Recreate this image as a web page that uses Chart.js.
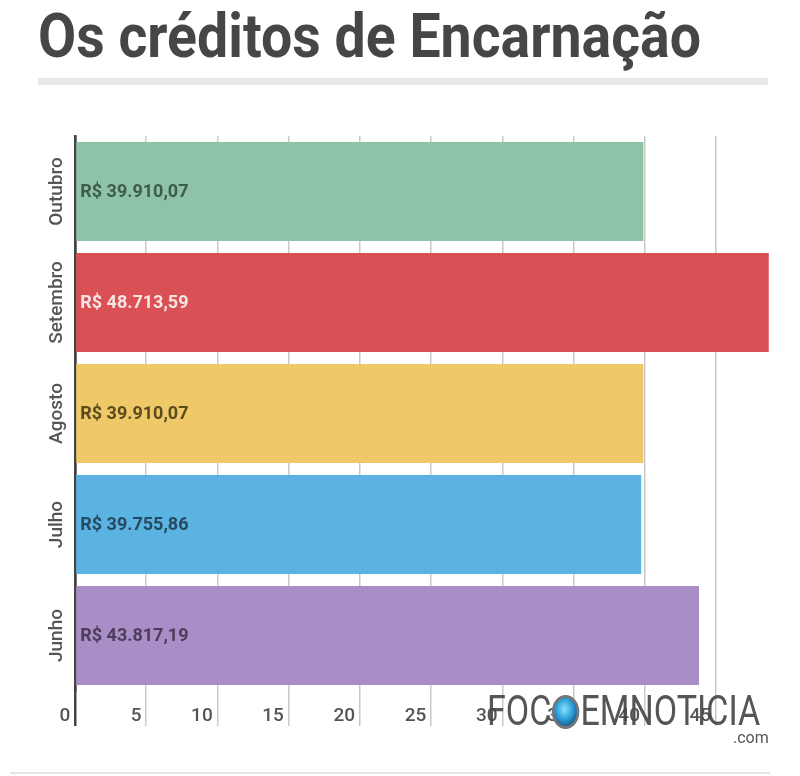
<!DOCTYPE html>
<html>
<head>
<meta charset="utf-8">
<script src="https://cdn.jsdelivr.net/npm/chart.js@4.4.1/dist/chart.umd.min.js"></script>
<style>
  html, body { margin: 0; padding: 0; background: #fff; }
  body { width: 800px; height: 776px; position: relative; overflow: hidden; font-family: Roboto, sans-serif; }
  #title { position: absolute; left: 38px; top: 5px; margin: 0; font: 700 62px/62px Roboto, sans-serif; color: #464646;
           white-space: nowrap; transform: scaleX(0.894); transform-origin: 0 0; }
  #rule { position: absolute; left: 38px; top: 78px; width: 730px; height: 7px; background: #e8e8e8; }
  #foot { position: absolute; left: 10px; top: 772px; width: 760px; height: 2px; background: #e4e4e4; }
  #wrap { position: absolute; left: 0; top: 0; width: 800px; height: 776px; }
  #mark { position: absolute; left: 487px; top: 690px; color: rgba(70,70,70,0.92); z-index: 2; white-space: nowrap; }
  #mark .big { font: 400 42px/42px Roboto, sans-serif; display: inline-block; transform: scaleX(0.81); transform-origin: 0 0; }
  #mark .globe { display: inline-block; width: 34px; height: 34px; border-radius: 50%; vertical-align: -4px;
                 background: radial-gradient(circle at 45% 40%, #8fe0ff 0%, #2a9fd8 45%, #1b5f8f 75%);
                 border: 3px solid #777; box-sizing: border-box; margin: 0 1px; }
  #mark .com { position: absolute; left: 246px; top: 38px; font: 400 16px Roboto, sans-serif; color: #555; }
</style>
</head>
<body>
<h1 id="title">Os créditos de Encarnação</h1>
<div id="rule"></div>
<div id="wrap"><canvas id="chart" width="800" height="776"></canvas></div>
<div id="mark"><span class="big">FOC<span class="globe"></span>EMNOTICIA</span><span class="com">.com</span></div>
<div id="foot"></div>
<script>
// months, top to bottom
const months = ["Outubro", "Setembro", "Agosto", "Julho", "Junho"];
// credits in thousands of R$
const credits = [39.91007, 48.71359, 39.91007, 39.75586, 43.81719];
const valueLabels = ["R$ 39.910,07", "R$ 48.713,59", "R$ 39.910,07", "R$ 39.755,86", "R$ 43.817,19"];
const xTicks = [0, 5, 10, 15, 20, 25, 30, 35, 40, 45];

const barColors = ["#8ec3a8", "#d95055", "#efc868", "#5bb3e2", "#a98dc6"];
const labelColors = ["#3e5c4c", "#f7e4e4", "#5b4b1f", "#264a61", "#4d3d5c"];

// write the value inside each bar, near its base
const valueText = {
  id: "valueText",
  afterDatasetsDraw(chart) {
    const ctx = chart.ctx;
    const meta = chart.getDatasetMeta(0);
    ctx.save();
    ctx.font = "700 18px Roboto";
    ctx.textBaseline = "middle";
    ctx.textAlign = "left";
    meta.data.forEach((bar, i) => {
      ctx.fillStyle = labelColors[i];
      ctx.fillText(valueLabels[i], bar.base + 4, bar.y + 1);
    });
    ctx.restore();
  }
};

new Chart(document.getElementById("chart"), {
  type: "bar",
  data: {
    labels: months,
    datasets: [{
      data: credits,
      backgroundColor: barColors,
      borderWidth: 0,
      categoryPercentage: 1,
      barPercentage: 0.89
    }]
  },
  options: {
    indexAxis: "y",
    responsive: false,
    animation: false,
    layout: { padding: { top: 136, right: 30, left: 0, bottom: 0 } },
    plugins: { legend: { display: false }, tooltip: { enabled: false } },
    scales: {
      x: {
        min: 0,
        max: 48.8,
        afterBuildTicks: (scale) => { scale.ticks = xTicks.map(v => ({ value: v })); },
        afterFit: (scale) => { scale.height = 85; },
        border: { display: false },
        grid: {
          tickLength: 35,
          color: (c) => c.index === 0 ? "#444" : "#c9c9c9",
          lineWidth: (c) => c.index === 0 ? 2.5 : 1.5
        },
        ticks: {
          align: "end",
          padding: -21,
          maxRotation: 0,
          color: "#555",
          font: { family: "Roboto", size: 19, weight: "500" },
          callback: (v) => v + " "
        }
      },
      y: {
        afterFit: (scale) => { scale.width = 75; },
        border: { display: true, color: "#444", width: 2.5 },
        grid: { display: false, drawTicks: false },
        ticks: {
          minRotation: 90,
          maxRotation: 90,
          crossAlign: "center",
          padding: -24,
          color: "#555",
          font: { family: "Roboto", size: 19, weight: "500" }
        }
      }
    }
  },
  plugins: [valueText]
});
</script>
</body>
</html>
